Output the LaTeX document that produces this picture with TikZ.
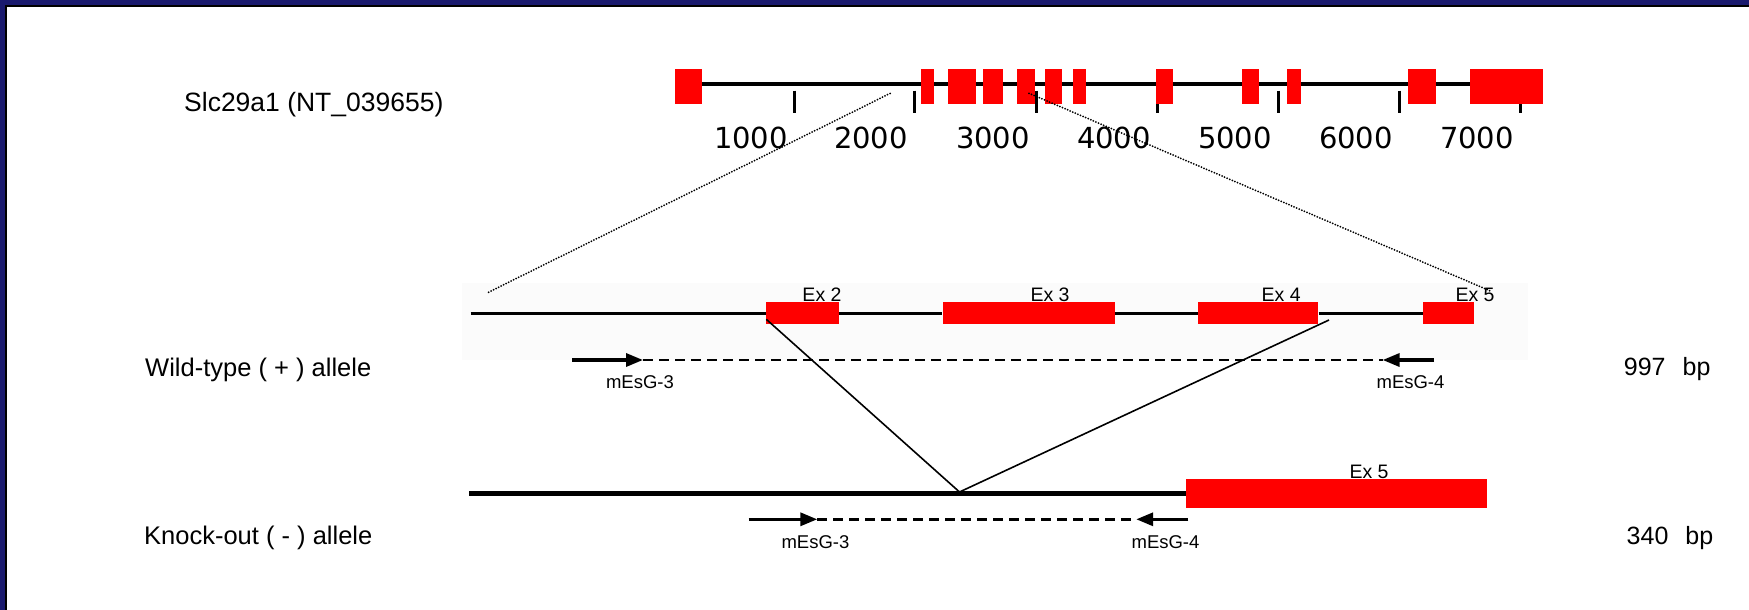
\documentclass[tikz,border=0pt]{standalone}
\usepackage{fontspec}
\setmainfont{Liberation Sans}
\newfontfamily\rulerfont{DejaVu Sans}
\usetikzlibrary{arrows.meta}
\definecolor{frameblue}{RGB}{26,26,110}
\definecolor{panelgray}{RGB}{251,251,251}
\tikzset{
  genename/.style={inner sep=0, font=\fontsize{26.5}{30}\selectfont},
  allele/.style={inner sep=0, font=\fontsize{25.5}{29}\selectfont},
  rulerlbl/.style={inner sep=0, font=\rulerfont\fontsize{29}{32}\selectfont},
  exlbl/.style={inner sep=0, font=\fontsize{19.5}{22}\selectfont},
  primerlbl/.style={inner sep=0, anchor=base, font=\fontsize{18.5}{21}\selectfont},
  sizelbl/.style={inner sep=0, anchor=base west, font=\fontsize{25}{28}\selectfont},
  wtexon/.style={fill=red, draw=none, inner sep=0, minimum height=21.4pt, label distance=7pt},
  koexon/.style={fill=red, draw=none, inner sep=0, minimum height=28.4pt, label distance=7pt},
  wtline/.style={line width=3pt},
  koline/.style={line width=5pt},
  primer/.style={line width=3.3pt, -{Triangle[length=17pt, width=13pt]}},
  amplicon/.style={line width=2.5pt, dash pattern=on 10pt off 6pt},
  deletion/.style={line width=1.6pt},
  zoomline/.style={line width=2pt, line cap=round, dash pattern=on 0pt off 2.8pt}
}
\begin{document}
\begin{tikzpicture}[x=1pt, y=-1pt]
\useasboundingbox (0,0) rectangle (1749,610);
\fill[white] (0,0) rectangle (1749,610);
\fill[frameblue] (0,0) rectangle (1749,5);
\fill[frameblue] (0,0) rectangle (5,610);
\fill[black] (5,5) rectangle (1749,7);
\fill[black] (5,5) rectangle (7,610);
\fill[panelgray] (462,283) rectangle (1528,360);

% genomic map
\node[genename, anchor=base west] (gene) at (184,111) {Slc29a1 (NT\_039655)};
\coordinate (mapL) at (675,84.3);
\coordinate (mapR) at (1543,84.3);
\draw[line width=4pt] (mapL) -- (mapR);
\foreach \t [count=\i] in {794,914,1036,1157,1278,1399,1520}{
  \draw[line width=3pt] (\t,90.7) -- (\t,113.3);
  \node[rulerlbl, anchor=base east] (n\i) at (\t-6,148.3) {\i000};
}
\foreach \a/\b in {675/702, 920.6/934, 948/976, 983/1003, 1017/1035, 1045/1062, 1073/1086,
                   1156/1173, 1242/1259, 1287/1301, 1408/1436, 1470/1543}
  \fill[red] (\a,69) rectangle (\b,104);

% wild-type allele
\node[allele, anchor=base west] (wtname) at (145,376.7) {Wild-type ( + ) allele};
\coordinate (wtL) at (470.7,313);
\node[wtexon, minimum width=72.2pt, label={[exlbl, xshift=19.6pt]above:Ex 2}] (wt2) at (802.4,313) {};
\node[wtexon, minimum width=172.2pt, label={[exlbl, xshift=21.4pt]above:Ex 3}] (wt3) at (1028.6,313) {};
\node[wtexon, minimum width=120.1pt, label={[exlbl, xshift=22.8pt]above:Ex 4}] (wt4) at (1258.3,313) {};
\node[wtexon, minimum width=51.3pt, label={[exlbl, xshift=26.5pt]above:Ex 5}] (wt5) at (1448.5,313) {};
\draw[wtline] (wtL) -- (wt2.west);
\draw[wtline] (wt2.east) -- (wt3.west);
\draw[wtline] (wt3.east) -- (wt4.west);
\draw[wtline] (wt4.east) -- (wt5.west);
\coordinate (f1) at (572.3,360);
\coordinate (f1t) at (643,360);
\coordinate (r1) at (1434,360);
\coordinate (r1t) at (1382.6,360);
\draw[amplicon] (f1t) -- (r1t);
\draw[primer] (f1) -- (f1t);
\draw[primer] (r1) -- (r1t);
\node[primerlbl] (f1lbl) at (640,388.3) {mEsG-3};
\node[primerlbl] (r1lbl) at (1410.5,388.3) {mEsG-4};
\node[sizelbl] (wtsize) at (1623.7,375) {997\hspace{17pt}bp};

% knock-out allele
\node[allele, anchor=base west] (koname) at (144,544) {Knock-out ( - ) allele};
\coordinate (koL) at (469,493.5);
\node[koexon, minimum width=301pt, label={[exlbl, xshift=32.5pt]above:Ex 5}] (ko5) at (1336.5,493.5) {};
\draw[koline] (koL) -- (ko5.west);
\coordinate (f2) at (748.5,519.3);
\coordinate (f2t) at (817.3,519.3);
\coordinate (r2) at (1188.3,519.3);
\coordinate (r2t) at (1136.2,519.3);
\draw[amplicon] (f2t) -- (r2t);
\draw[primer] (f2) -- (f2t);
\draw[primer] (r2) -- (r2t);
\node[primerlbl] (f2lbl) at (815.5,548.3) {mEsG-3};
\node[primerlbl] (r2lbl) at (1165.5,548.3) {mEsG-4};
\node[sizelbl] (kosize) at (1626.5,544) {340\hspace{17pt}bp};

% deleted region and zoom
\coordinate (cutL) at (766.3,319.3);
\coordinate (cutR) at (1329,320);
\coordinate (joint) at (959.5,492);
\draw[deletion] (cutL) -- (joint) -- (cutR);
\coordinate (zL1) at (890,93.5);
\coordinate (zL2) at (488,292.5);
\coordinate (zR1) at (1029,93.3);
\coordinate (zR2) at (1492,291.7);
\draw[zoomline] (zL1) -- (zL2);
\draw[zoomline] (zR1) -- (zR2);
\end{tikzpicture}
\end{document}
